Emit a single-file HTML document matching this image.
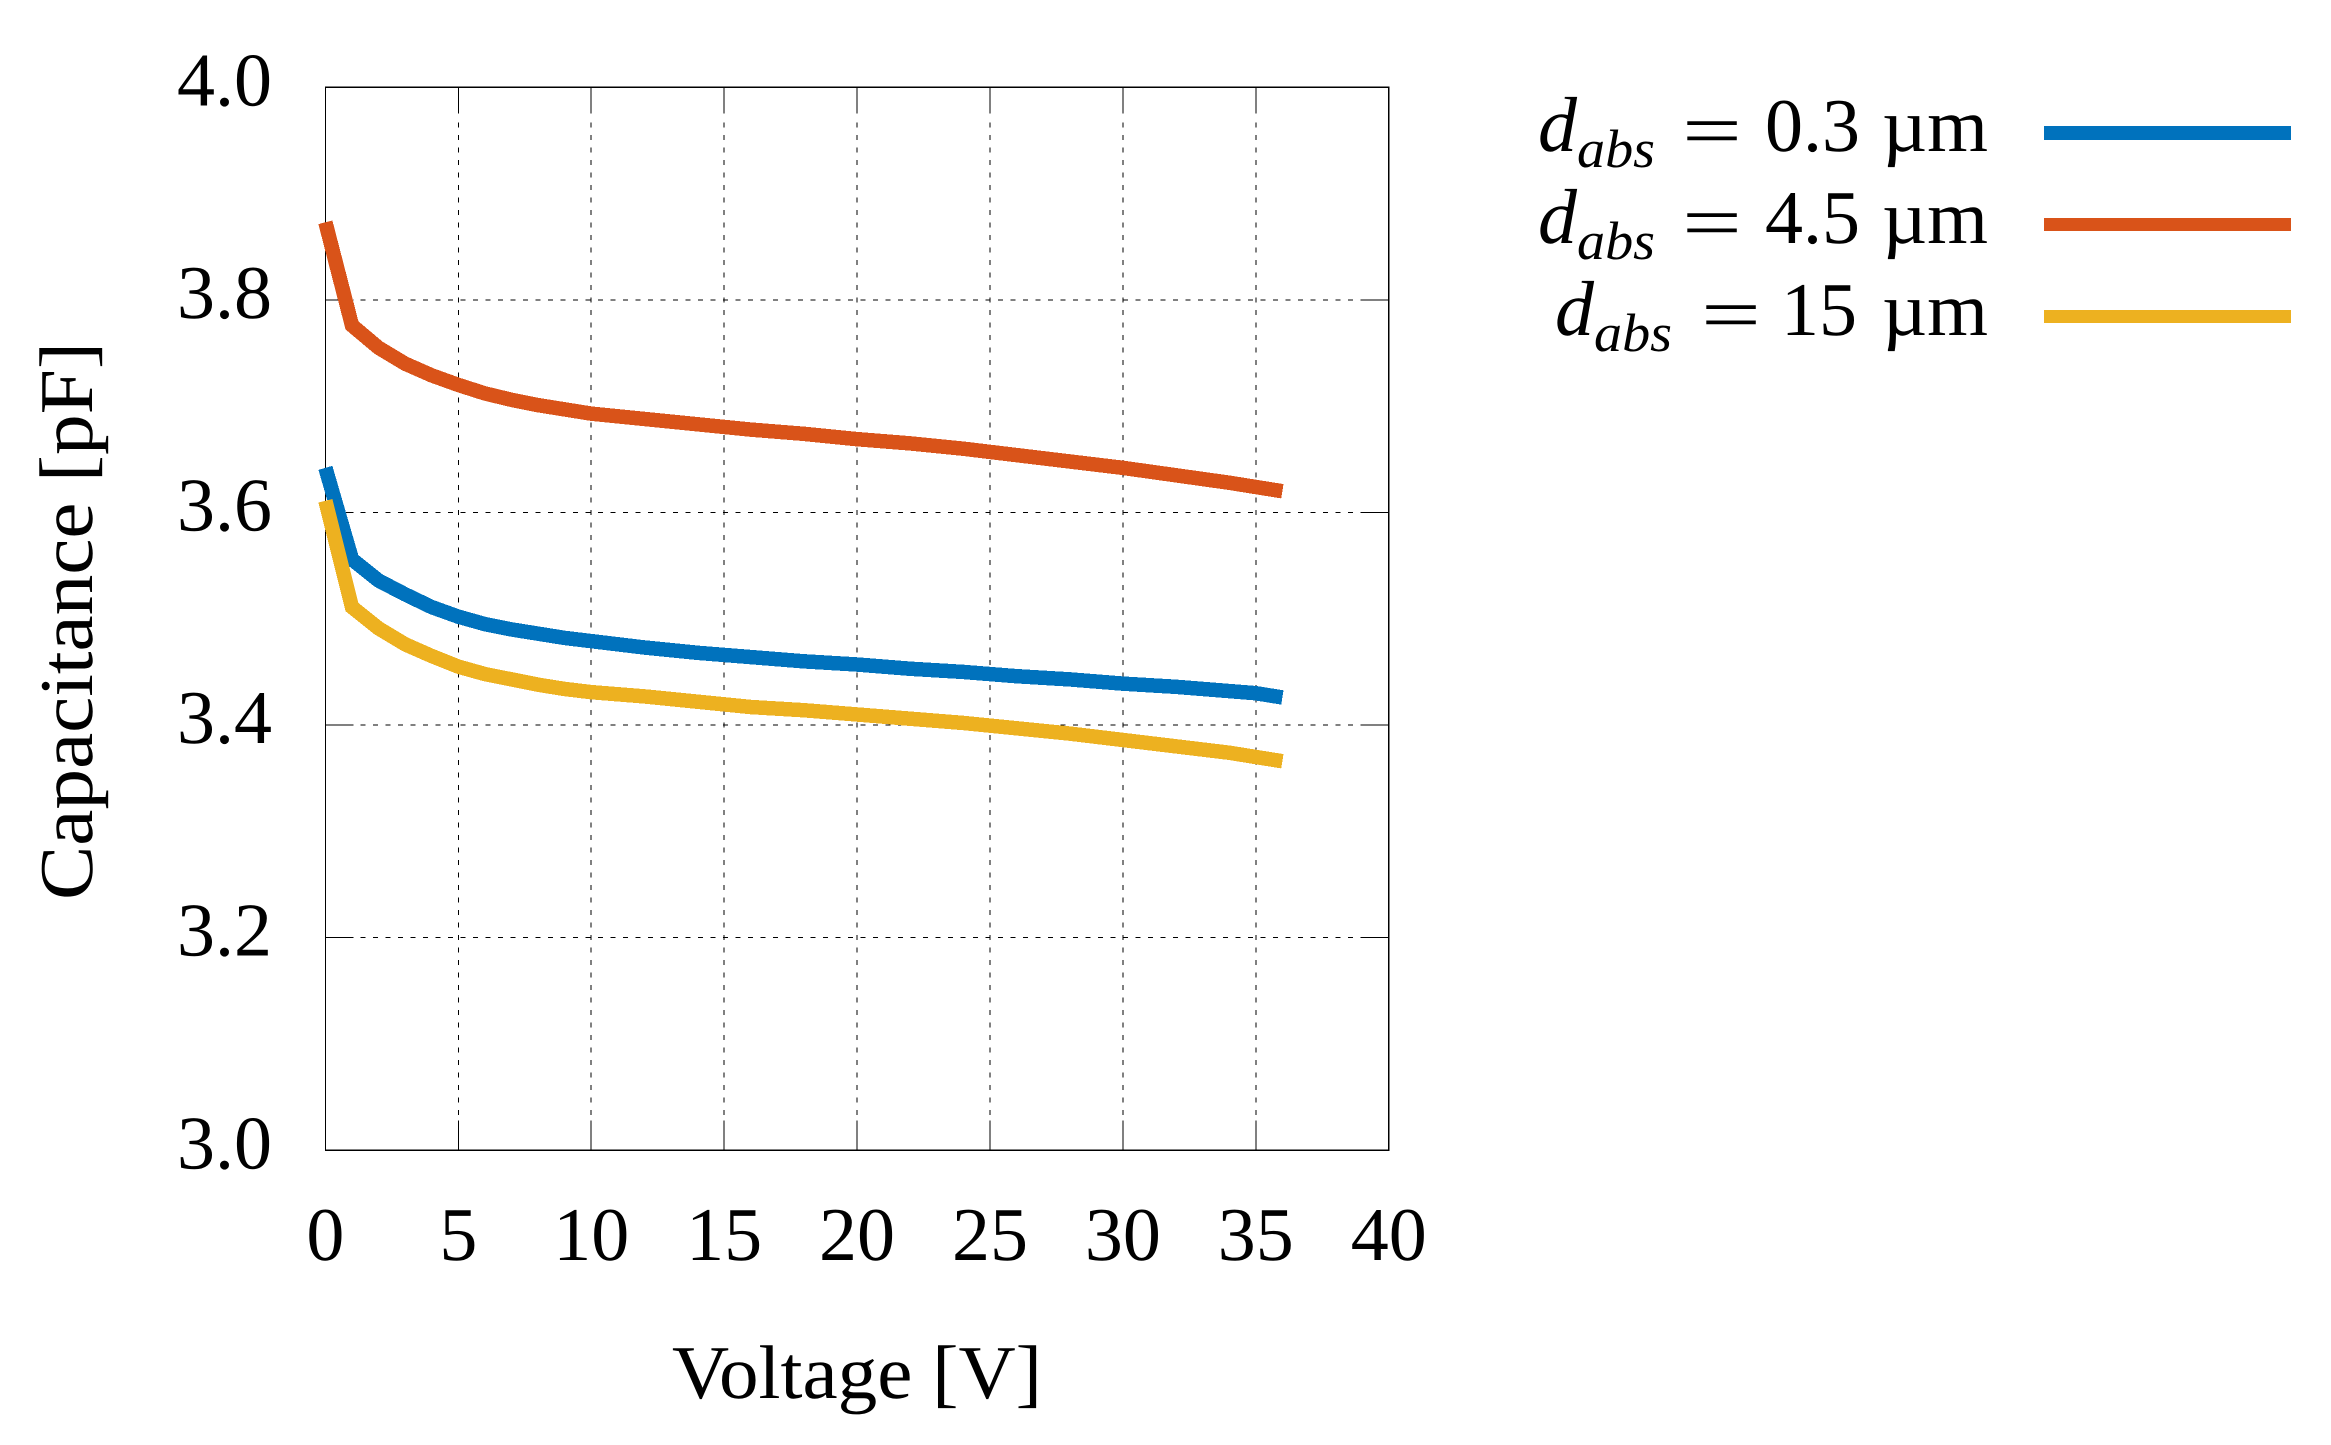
<!DOCTYPE html>
<html lang="en">
<head>
<meta charset="utf-8">
<title>Capacitance vs Voltage</title>
<style>
html,body{margin:0;padding:0;background:#fff;width:2331px;height:1445px;overflow:hidden}
svg{display:block}
text{font-family:"Liberation Serif","DejaVu Serif",serif;fill:#000;font-size:76px;text-rendering:geometricPrecision}
.it{font-style:italic;font-size:78px}
.sub{font-style:italic;font-size:54px}
</style>
</head>
<body>
<svg id="chart" xmlns="http://www.w3.org/2000/svg" width="2331" height="1445" viewBox="0 0 2331 1445">
  <rect x="0" y="0" width="2331" height="1445" fill="#ffffff"/>
  <g id="grid"></g>
  <g id="series"></g>
  <g id="ticks"></g>
  <text x="857" y="1398" text-anchor="middle" textLength="370" lengthAdjust="spacingAndGlyphs">Voltage [V]</text>
  <text transform="translate(92,621) rotate(-90)" text-anchor="middle" textLength="558" lengthAdjust="spacingAndGlyphs">Capacitance [pF]</text>
  <g>
    <g>
      <text class="it" x="1538" y="151">d</text><text class="sub" x="1577" y="167" textLength="78" lengthAdjust="spacingAndGlyphs">abs</text>
      <text x="1682" y="156" textLength="60" lengthAdjust="spacingAndGlyphs">=</text><text x="1765" y="151">0.3</text><text x="1882" y="151" textLength="106" lengthAdjust="spacingAndGlyphs">µm</text>
      <line x1="2044" x2="2291" y1="133" y2="133" stroke="#0072BD" stroke-width="14" shape-rendering="crispEdges"/>
    </g>
    <g>
      <text class="it" x="1538" y="243">d</text><text class="sub" x="1577" y="259" textLength="78" lengthAdjust="spacingAndGlyphs">abs</text>
      <text x="1682" y="248" textLength="60" lengthAdjust="spacingAndGlyphs">=</text><text x="1765" y="243">4.5</text><text x="1882" y="243" textLength="106" lengthAdjust="spacingAndGlyphs">µm</text>
      <line x1="2044" x2="2291" y1="224.5" y2="224.5" stroke="#D95319" stroke-width="13" shape-rendering="crispEdges"/>
    </g>
    <g>
      <text class="it" x="1555" y="335">d</text><text class="sub" x="1594" y="351" textLength="78" lengthAdjust="spacingAndGlyphs">abs</text>
      <text x="1701" y="340" textLength="60" lengthAdjust="spacingAndGlyphs">=</text><text x="1781" y="335">15</text><text x="1882" y="335" textLength="106" lengthAdjust="spacingAndGlyphs">µm</text>
      <line x1="2044" x2="2291" y1="316.5" y2="316.5" stroke="#EDB120" stroke-width="13" shape-rendering="crispEdges"/>
    </g>
  </g>
</svg>
<script>
var xTicks = [0, 5, 10, 15, 20, 25, 30, 35, 40];
var yTicks = [3.0, 3.2, 3.4, 3.6, 3.8, 4.0];
var voltages = [0,1,2,3,4,5,6,7,8,9,10,12,14,16,18,20,22,24,26,28,30,32,34,35,36];
var capacitance03 = [3.642,3.556,3.536,3.523,3.511,3.502,3.495,3.490,3.486,3.482,3.479,3.473,3.468,3.464,3.460,3.457,3.453,3.450,3.446,3.443,3.439,3.436,3.432,3.430,3.426];
var capacitance45 = [3.873,3.776,3.755,3.740,3.729,3.720,3.712,3.706,3.701,3.697,3.693,3.688,3.683,3.678,3.674,3.669,3.665,3.660,3.654,3.648,3.642,3.635,3.628,3.624,3.620];
var capacitance15 = [3.611,3.511,3.491,3.476,3.465,3.455,3.448,3.443,3.438,3.434,3.431,3.427,3.422,3.417,3.414,3.410,3.406,3.402,3.397,3.392,3.386,3.380,3.374,3.370,3.366];

var NS = 'http://www.w3.org/2000/svg';
var PLOT = {left: 325.4, right: 1388.7, top: 87.3, bottom: 1150.3};
var X_MIN = 0, X_MAX = 40, Y_MIN = 3, Y_MAX = 4;
function xScale(v) { return PLOT.left + (v - X_MIN) / (X_MAX - X_MIN) * (PLOT.right - PLOT.left); }
function yScale(v) { return PLOT.bottom - (v - Y_MIN) / (Y_MAX - Y_MIN) * (PLOT.bottom - PLOT.top); }
function make(tag, attrs, parent) {
  var el = document.createElementNS(NS, tag);
  for (var k in attrs) { el.setAttribute(k, attrs[k]); }
  parent.appendChild(el);
  return el;
}
var gridG = document.getElementById('grid');
var tickG = document.getElementById('ticks');
var seriesG = document.getElementById('series');
var TICK_LEN = 28;
function seg(x1, y1, x2, y2, dashed, parent, name) {
  var el = make('line', {x1: x1, y1: y1, x2: x2, y2: y2, stroke: '#000', 'stroke-width': 1, 'shape-rendering': 'crispEdges'}, parent);
  if (dashed) { el.setAttribute('stroke-dasharray', '5.2 7.3'); el.setAttribute('stroke-dashoffset', '-7'); }
  
  
  return el;
}
xTicks.forEach(function (t) {
  var x = xScale(t);
  if (t > X_MIN && t < X_MAX) {
    seg(x, PLOT.top + TICK_LEN, x, PLOT.bottom - TICK_LEN, true, gridG, 'x-gridline');
    seg(x, PLOT.top, x, PLOT.top + TICK_LEN - 2, false, gridG, 'x-tick-top');
    seg(x, PLOT.bottom - TICK_LEN - 2, x, PLOT.bottom, false, gridG, 'x-tick-bottom');
  }
  var label = make('text', {x: x, y: 1260, 'text-anchor': 'middle'}, tickG);
  label.textContent = String(t);
  
  
});
yTicks.forEach(function (t) {
  var y = yScale(t);
  if (t > Y_MIN && t < Y_MAX) {
    seg(PLOT.left + TICK_LEN, y, PLOT.right - TICK_LEN, y, true, gridG, 'y-gridline');
    seg(PLOT.left, y, PLOT.left + TICK_LEN, y, false, gridG, 'y-tick-left');
    seg(PLOT.right - TICK_LEN, y, PLOT.right, y, false, gridG, 'y-tick-right');
  }
  var label = make('text', {x: 272, y: y + 18, 'text-anchor': 'end'}, tickG);
  label.textContent = t.toFixed(1);
  
  
});
var frame = make('rect', {x: PLOT.left, y: PLOT.top, width: PLOT.right - PLOT.left, height: PLOT.bottom - PLOT.top, fill: 'none', stroke: '#000', 'stroke-width': 1.2, 'shape-rendering': 'crispEdges'}, gridG);



function drawSeries(values, color) {
  var pts = values.map(function (v, i) { return xScale(voltages[i]).toFixed(2) + ',' + yScale(v).toFixed(2); }).join(' ');
  return make('polyline', {points: pts, fill: 'none', stroke: color, 'stroke-width': 14.5, 'stroke-linejoin': 'miter', 'stroke-linecap': 'butt', 'shape-rendering': 'crispEdges'}, seriesG);
}
var lineA = drawSeries(capacitance03, '#0072BD');


var lineB = drawSeries(capacitance45, '#D95319');


var lineC = drawSeries(capacitance15, '#EDB120');


</script>
</body>
</html>
